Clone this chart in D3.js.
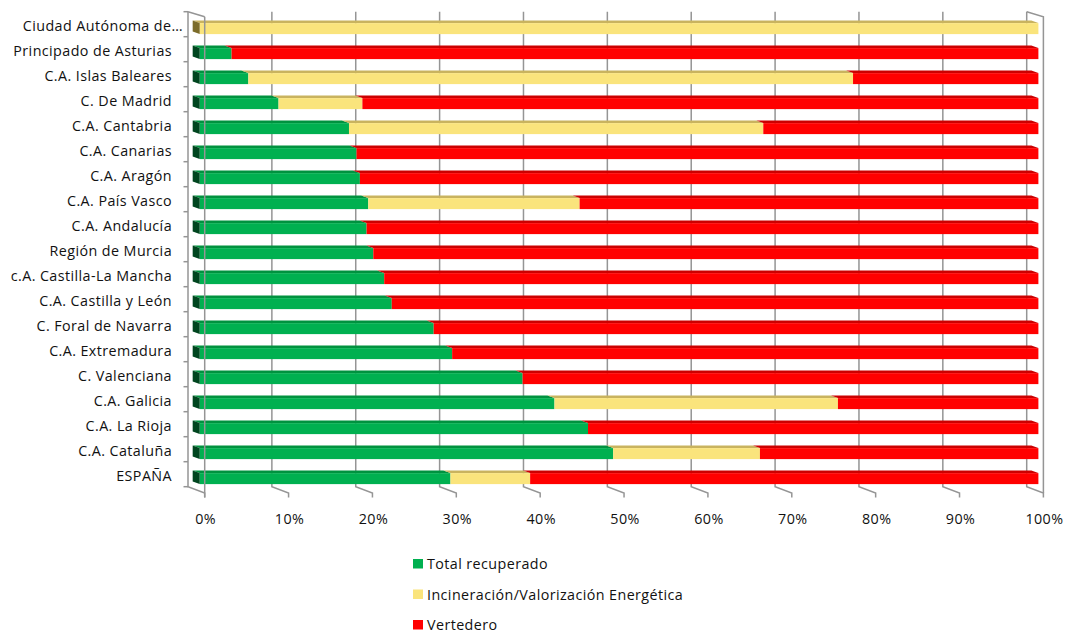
<!DOCTYPE html>
<html>
<head>
<meta charset="utf-8">
<script src="https://cdn.jsdelivr.net/npm/d3@7"></script>
<style>
  html, body { margin: 0; padding: 0; background: #fff; }
  svg { display: block; }
  text { font-family: "Open Sans", Lato, sans-serif; fill: #111; letter-spacing: 0.42px; }
</style>
</head>
<body>
<svg id="chart" width="1065" height="634"></svg>
<script>
// ---------- data ----------
const categories = [
  "Ciudad Autónoma de…", "Principado de Asturias", "C.A. Islas Baleares", "C. De Madrid",
  "C.A. Cantabria", "C.A. Canarias", "C.A. Aragón", "C.A. País Vasco", "C.A. Andalucía",
  "Región de Murcia", "c.A. Castilla-La Mancha", "C.A. Castilla y León", "C. Foral de Navarra",
  "C.A. Extremadura", "C. Valenciana", "C.A. Galicia", "C.A. La Rioja", "C.A. Cataluña", "ESPAÑA"
];
const recuperado   = [0, 3.8, 5.8, 9.4, 17.8, 18.7, 19.1, 20.1, 19.9, 20.7, 22.0, 22.9, 27.9, 30.1, 38.5, 42.3, 46.3, 49.3, 29.9];
const incineracion = [100, 0, 72.1, 10.0, 49.4, 0, 0, 25.2, 0, 0, 0, 0, 0, 0, 0, 33.8, 0, 17.5, 9.5];
const vertedero    = [0, 96.2, 22.1, 80.6, 32.8, 81.3, 80.9, 54.7, 80.1, 79.3, 78.0, 77.1, 72.1, 69.9, 61.5, 23.9, 53.7, 33.2, 60.6];
const seriesNames  = ["Total recuperado", "Incineración/Valorización Energética", "Vertedero"];
const tickValues   = [0, 10, 20, 30, 40, 50, 60, 70, 80, 90, 100];

// ---------- styling ----------
const colors = {
  front: ["#00B050", "#FAE47C", "#FF0000"],
  top:   ["#00923F", "#C9B35E", "#CC0000"],
  cap:   ["#00451F", "#7C6C2A", "#7A0000"]
};
const FONT_SIZE = 14.3;

const table = categories.map((c, i) => ({
  cat: c, s0: recuperado[i], s1: incineracion[i], s2: vertedero[i]
}));
const keys = ["s0", "s1", "s2"];
const stacked = d3.stack().keys(keys)(table);

const svg = d3.select("#chart");

// back wall scales
const x = d3.scaleLinear().domain([0, 100]).range([188, 1026.7]);
const y = d3.scaleBand().domain(categories).range([11.7, 486.7]).paddingInner(0.56).paddingOuter(0.28);
const yCat = d3.scaleBand().domain(categories).range([11.7, 486.7]);

// oblique depth vector
const DX = 16.7, DY = 6.3;
const bD = 0.28, fD = 0.70; // bar depth placement
const bdx = DX * bD, bdy = DY * bD, fdx = DX * fD, fdy = DY * fD;

const gridColor = "#959595";
const wallTop = 11.7, wallBottom = 486.7;

// ---------- walls / gridlines ----------
const grid = svg.append("g").attr("fill", "none").attr("stroke", gridColor).attr("stroke-width", 1.5);
tickValues.forEach(v => {
  const xb = x(v);
  grid.append("path").attr("d", `M${xb},${wallTop}V${wallBottom}L${xb + DX},${wallBottom + DY}V${wallBottom + DY + 4.5}`);
});
// top edges of side walls
grid.append("path").attr("d", `M${x(100)},${wallTop}L${x(100) + DX},${wallTop + DY * 0.8}V${wallBottom + DY}`);
grid.append("path").attr("d", `M${x(0)},${wallTop}L${x(0) + DX},${wallTop + DY * 0.8}`);
// category axis ticks
grid.selectAll(".ct").data(d3.range(categories.length + 1)).join("path")
  .attr("d", k => `M${x(0) - 4.5},${wallTop + k * yCat.step()}H${x(0)}`);

// ---------- bars ----------
const bars = svg.append("g");
stacked.forEach((layer, si) => {
  layer.forEach((d, i) => {
    const v0 = d[0], v1 = d[1];
    if (v1 - v0 <= 0) return;
    const yb = y(categories[i]), h = y.bandwidth();
    const x0 = x(v0), x1 = x(v1);
    bars.append("path")
      .attr("d", `M${x0 + bdx},${yb + bdy}L${x1 + bdx},${yb + bdy}L${x1 + fdx},${yb + fdy}L${x0 + fdx},${yb + fdy}Z`)
      .attr("fill", colors.top[si]);
    bars.append("rect")
      .attr("x", x0 + fdx).attr("y", yb + fdy)
      .attr("width", x1 - x0).attr("height", h)
      .attr("fill", colors.front[si]);
    if (v0 === 0) {
      bars.append("path")
        .attr("d", `M${x0 + bdx},${yb + bdy}L${x0 + fdx},${yb + fdy}L${x0 + fdx},${yb + fdy + h}L${x0 + bdx},${yb + bdy + h}Z`)
        .attr("fill", colors.cap[si]);
    }
  });
});

// front edge of left wall drawn over bars
svg.append("path").attr("fill", "none").attr("stroke", gridColor).attr("stroke-width", 1.5)
  .attr("d", `M${x(0) + DX},${wallTop + DY * 0.8}V${wallBottom + DY + 4.5}`);

// ---------- category labels ----------
svg.append("g").selectAll("text").data(categories).join("text")
  .attr("x", (d, i) => i === 0 ? 183 : 172)
  .attr("y", d => yCat(d) + yCat.bandwidth() / 2 + 1)
  .attr("text-anchor", "end")
  .attr("dominant-baseline", "central")
  .attr("font-size", FONT_SIZE)
  .text(d => d);

// ---------- value axis labels ----------
svg.append("g").selectAll("text").data(tickValues).join("text")
  .attr("x", v => x(v) + DX + 1)
  .attr("y", 518)
  .attr("text-anchor", "middle")
  .attr("dominant-baseline", "central")
  .attr("font-size", FONT_SIZE)
  .text(v => v + "%");

// ---------- legend ----------
const leg = svg.append("g").selectAll("g").data(seriesNames).join("g")
  .attr("transform", (d, i) => `translate(413, ${563.5 + i * 30.5})`);
leg.append("rect").attr("x", 0).attr("y", -4.5).attr("width", 10).attr("height", 9.5)
  .attr("fill", (d, i) => colors.front[i]);
leg.append("text").attr("x", 14).attr("y", 0).attr("dominant-baseline", "central")
  .attr("font-size", FONT_SIZE).text(d => d);
</script>
</body>
</html>
